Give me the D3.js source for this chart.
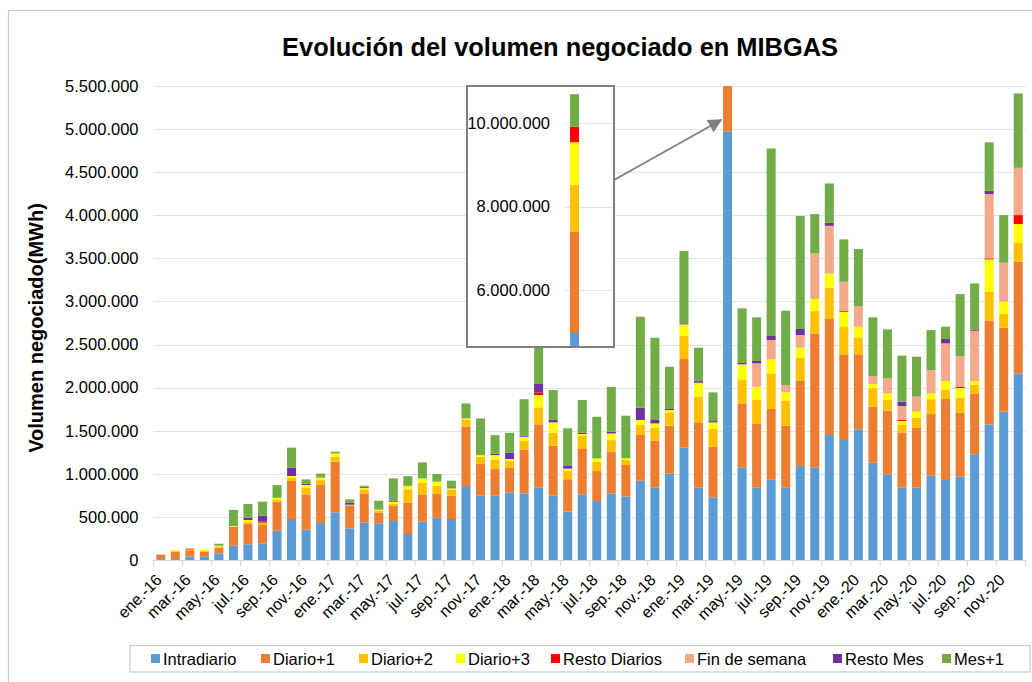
<!DOCTYPE html>
<html><head><meta charset="utf-8">
<script src="https://cdn.jsdelivr.net/npm/d3@7"></script>
<style>body{margin:0;background:#fff;} svg{display:block;font-family:"Liberation Sans",Arial,sans-serif;}</style>
</head><body>
<svg id="chart" width="1032" height="682"></svg>
<script>
const categories = [
"ene.-16","feb.-16","mar.-16","abr.-16","may.-16","jun.-16","jul.-16","ago.-16","sep.-16","oct.-16","nov.-16","dic.-16",
"ene.-17","feb.-17","mar.-17","abr.-17","may.-17","jun.-17","jul.-17","ago.-17","sep.-17","oct.-17","nov.-17","dic.-17",
"ene.-18","feb.-18","mar.-18","abr.-18","may.-18","jun.-18","jul.-18","ago.-18","sep.-18","oct.-18","nov.-18","dic.-18",
"ene.-19","feb.-19","mar.-19","abr.-19","may.-19","jun.-19","jul.-19","ago.-19","sep.-19","oct.-19","nov.-19","dic.-19",
"ene.-20","feb.-20","mar.-20","abr.-20","may.-20","jun.-20","jul.-20","ago.-20","sep.-20","oct.-20","nov.-20","dic.-20"];

// values in MWh
const intradiario = [10000,10000,39000,39000,77000,166000,182000,193000,340000,476000,352000,429000,
 553000,367000,433000,421000,452000,302000,445000,491000,476000,858000,746000,746000,
 785000,773000,839000,746000,561000,762000,684000,773000,735000,920000,839000,1005000,
 1303000,839000,727000,4970000,1071000,843000,936000,843000,1091000,1071000,1450000,1392000,
 1516000,1129000,994000,839000,839000,978000,928000,967000,1226000,1574000,1721000,2166000];
const diario1 = [52000,85000,70000,58000,66000,217000,240000,213000,336000,441000,406000,441000,
 588000,263000,340000,128000,174000,364000,317000,275000,271000,688000,367000,309000,
 286000,510000,735000,580000,375000,526000,348000,483000,367000,530000,545000,553000,
 1029000,758000,588000,2430000,746000,742000,816000,715000,986000,1558000,1353000,994000,
 870000,650000,739000,638000,696000,715000,940000,742000,700000,1203000,974000,1295000];
const diario2 = [0,10000,8000,8000,15000,6000,19000,27000,27000,39000,77000,62000,
 58000,12000,46000,23000,31000,155000,135000,97000,66000,85000,85000,112000,
 77000,97000,197000,151000,101000,151000,108000,135000,58000,116000,151000,155000,
 267000,298000,205000,1120000,271000,271000,414000,290000,271000,259000,356000,321000,
 197000,213000,124000,97000,116000,174000,112000,174000,104000,336000,159000,224000];
const diario3 = [0,10000,4000,11000,8000,6000,23000,0,19000,19000,35000,27000,
 39000,0,19000,15000,19000,39000,50000,46000,19000,12000,19000,50000,
 23000,50000,143000,120000,23000,23000,39000,77000,19000,58000,50000,27000,
 128000,162000,77000,1020000,174000,155000,162000,97000,116000,139000,166000,174000,
 124000,50000,77000,39000,70000,66000,97000,112000,46000,375000,143000,213000];
const restoDiarios = [0,0,10000,0,0,0,0,12000,0,0,0,0,
 0,0,0,0,0,0,0,0,0,0,0,0,
 0,0,31000,0,0,0,0,0,0,0,0,0,
 0,0,0,370000,0,0,0,0,0,0,0,12000,
 0,0,0,12000,0,0,0,15000,0,12000,0,104000];
const finDeSemana = [0,0,0,0,0,0,0,0,0,0,0,0,
 0,0,0,0,0,0,0,0,0,0,0,0,
 0,0,0,0,0,0,0,0,0,0,0,0,
 10000,0,0,0,12000,271000,224000,85000,147000,530000,553000,336000,
 240000,93000,174000,162000,174000,271000,437000,356000,584000,746000,452000,549000];
const restoMes = [0,0,0,0,0,0,27000,70000,0,97000,15000,5000,
 0,23000,12000,8000,12000,0,0,0,12000,0,0,15000,
 73000,15000,97000,27000,31000,15000,0,19000,0,143000,39000,19000,
 10000,19000,15000,0,12000,27000,54000,0,70000,0,35000,0,
 0,0,0,50000,0,0,50000,0,15000,39000,0,0];
const mes1 = [0,0,0,0,23000,186000,159000,162000,147000,232000,50000,39000,
 19000,39000,12000,93000,259000,112000,186000,89000,77000,174000,425000,217000,
 232000,421000,708000,348000,437000,379000,483000,522000,495000,1056000,955000,483000,
 839000,387000,333000,780000,634000,507000,2169000,862000,1311000,456000,456000,491000,
 661000,681000,568000,534000,464000,464000,143000,719000,534000,561000,553000,862000];

const seriesNames = ["Intradiario","Diario+1","Diario+2","Diario+3","Resto Diarios","Fin de semana","Resto Mes","Mes+1"];
const seriesColors = ["#5B9BD5","#ED7D31","#FFC000","#FFFF00","#FF0000","#F4A98A","#7030A0","#70AD47"];
const yTicks = [0,500000,1000000,1500000,2000000,2500000,3000000,3500000,4000000,4500000,5000000,5500000];
const insetTicks = [6000000,8000000,10000000];
const insetIndex = 39;

const seriesArrays = [intradiario,diario1,diario2,diario3,restoDiarios,finDeSemana,restoMes,mes1];
const table = categories.map((c,i)=>{const o={cat:c}; seriesNames.forEach((s,k)=>o[s]=seriesArrays[k][i]); return o;});
const stacked = d3.stack().keys(seriesNames)(table);

const fmt = v => d3.format(",")(v).replace(/,/g,".");
const svg = d3.select("#chart");

// outer frame
svg.append("rect").attr("x",8.5).attr("y",10.5).attr("width",1040).attr("height",700)
  .attr("fill","none").attr("stroke","#c3cbd8").attr("stroke-width",1.2);

const L=153.5, R=1025.5, T=86, B=560;
const x = d3.scaleBand().domain(categories).range([L,R]).paddingInner(0.38).paddingOuter(0.19);
const y = d3.scaleLinear().domain([0,5500000]).range([B,T]);

// title
svg.append("text").attr("x",560).attr("y",56).attr("text-anchor","middle")
  .attr("font-weight","bold").attr("font-size",25.4).attr("fill","#000")
  .text("Evolución del volumen negociado en MIBGAS");

// gridlines
svg.append("g").selectAll("line").data(yTicks.filter(d=>d>0)).join("line")
  .attr("x1",L).attr("x2",R).attr("y1",d=>Math.round(y(d))+0.5).attr("y2",d=>Math.round(y(d))+0.5)
  .attr("stroke","#e1e5ea").attr("stroke-width",1.2);

// y axis labels
const yAxis = d3.axisLeft(y).tickValues(yTicks).tickFormat(fmt).tickSize(0).tickPadding(15);
const gy = svg.append("g").attr("transform",`translate(${L},0)`).call(yAxis);
gy.select(".domain").remove();
gy.selectAll("text").attr("font-size",16.5).attr("fill","#000").attr("font-family","Liberation Sans, Arial, sans-serif");

// y axis title
svg.append("text").attr("transform","translate(43,328) rotate(-90)").attr("text-anchor","middle")
  .attr("font-weight","bold").attr("font-size",20).attr("fill","#000").text("Volumen negociado(MWh)");

// bars
svg.append("clipPath").attr("id","plotclip").append("rect").attr("x",L).attr("y",T).attr("width",R-L).attr("height",B-T);
const gBars = svg.append("g").attr("clip-path","url(#plotclip)");
gBars.selectAll("g").data(stacked).join("g").attr("fill",(d,i)=>seriesColors[i])
  .selectAll("rect").data(d=>d).join("rect")
  .attr("x",d=>x(d.data.cat)).attr("width",x.bandwidth())
  .attr("y",d=>y(d[1])).attr("height",d=>Math.max(0,y(d[0])-y(d[1])));

// x axis
svg.append("line").attr("x1",L).attr("x2",R).attr("y1",B+0.5).attr("y2",B+0.5).attr("stroke","#d9d9d9").attr("stroke-width",1.2);
const step = x.step();
const tickIdx = d3.range(0,61,2);
svg.append("g").selectAll("line").data(tickIdx).join("line")
  .attr("x1",d=>L+d*step).attr("x2",d=>L+d*step).attr("y1",B).attr("y2",B+6)
  .attr("stroke","#d9d9d9").attr("stroke-width",1.2);
svg.append("g").selectAll("text").data(categories.filter((c,i)=>i%2===0)).join("text")
  .attr("transform",d=>`translate(${x(d)+x.bandwidth()/2+2},581) rotate(-45)`)
  .attr("text-anchor","end").attr("font-size",16).attr("fill","#000").text(d=>d);

// inset
const IX=467, IY=86, IW=147, IH=261;
const yIn = d3.scaleLinear().domain([4635000,10886000]).range([IY+IH,IY]);
const gIn = svg.append("g");
gIn.append("rect").attr("x",IX).attr("y",IY).attr("width",IW).attr("height",IH).attr("fill","#fff");
svg.append("clipPath").attr("id","insetclip").append("rect").attr("x",IX).attr("y",IY).attr("width",IW).attr("height",IH);
gIn.append("g").selectAll("line").data(insetTicks).join("line")
  .attr("x1",565).attr("x2",IX+IW).attr("y1",d=>Math.round(yIn(d))+0.5).attr("y2",d=>Math.round(yIn(d))+0.5)
  .attr("stroke","#e1e5ea").attr("stroke-width",1.2);
gIn.append("g").selectAll("text").data(insetTicks).join("text")
  .attr("x",550).attr("y",d=>yIn(d)).attr("dy","0.35em").attr("text-anchor","end")
  .attr("font-size",16.5).attr("fill","#000").text(fmt);
const gInBars = gIn.append("g").attr("clip-path","url(#insetclip)");
gInBars.selectAll("rect").data(stacked.map((s,i)=>({seg:s[insetIndex],color:seriesColors[i]}))).join("rect")
  .attr("x",570).attr("width",x.bandwidth())
  .attr("y",d=>yIn(d.seg[1])).attr("height",d=>Math.max(0,yIn(d.seg[0])-yIn(d.seg[1])))
  .attr("fill",d=>d.color);
gIn.append("rect").attr("x",IX).attr("y",IY).attr("width",IW).attr("height",IH)
  .attr("fill","none").attr("stroke","#808080").attr("stroke-width",2);

// arrow
const defs = svg.append("defs");
defs.append("marker").attr("id","arrowhead").attr("viewBox","0 0 10 10").attr("refX",9).attr("refY",5)
  .attr("markerWidth",14).attr("markerHeight",14).attr("markerUnits","userSpaceOnUse").attr("orient","auto")
  .append("path").attr("d","M0,0 L10,5 L0,10 Z").attr("fill","#808080");
const barLeft = x(categories[insetIndex]);
svg.append("line").attr("x1",IX+IW).attr("y1",180).attr("x2",barLeft-2).attr("y2",120)
  .attr("stroke","#808080").attr("stroke-width",2).attr("marker-end","url(#arrowhead)");

// legend
const legX = [151,261,359,456,551,685,833,942];
const gl = svg.append("g");
gl.append("rect").attr("x",130).attr("y",645.5).attr("width",900).attr("height",26.5)
  .attr("fill","#fff").attr("stroke","#c3cbd8").attr("stroke-width",1.2);
seriesNames.forEach((s,i)=>{
  gl.append("rect").attr("x",legX[i]).attr("y",654).attr("width",9).attr("height",9).attr("fill",seriesColors[i]);
  gl.append("text").attr("x",legX[i]+12).attr("y",664.5).attr("font-size",16.5).attr("fill","#000").text(s);
});
</script>
</body></html>
